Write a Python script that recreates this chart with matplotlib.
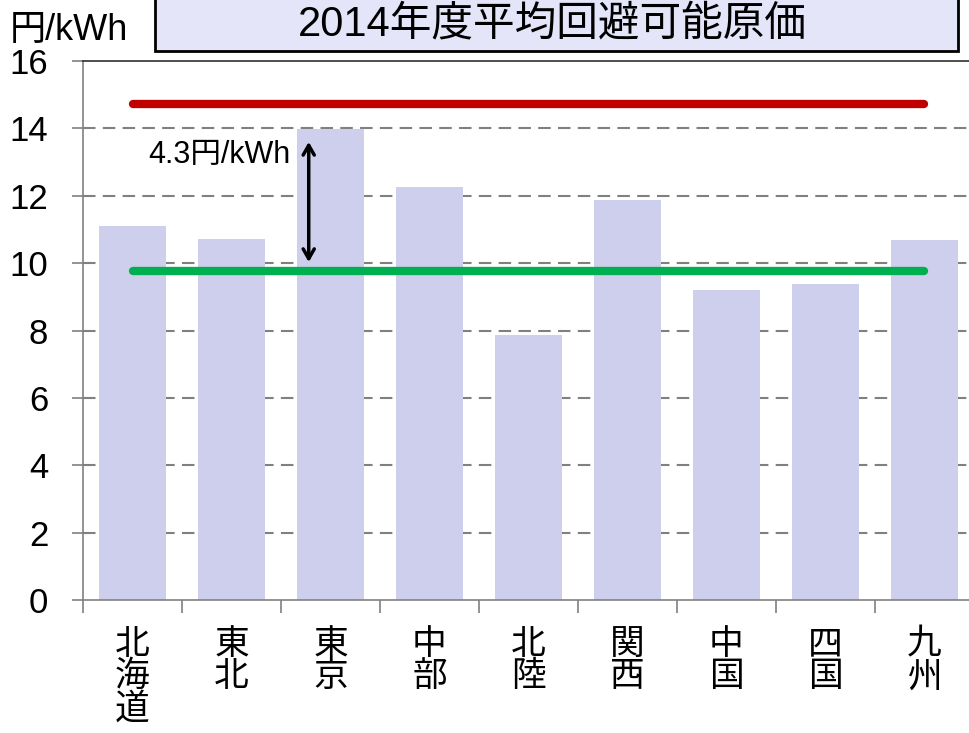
import numpy as np
import matplotlib
matplotlib.use("Agg")
import matplotlib.pyplot as plt
from matplotlib.patches import Rectangle

plt.rcParams['font.family'] = ['Liberation Sans', 'Noto Sans CJK JP', 'DejaVu Sans']

# data
regions = ['北海道', '東北', '東京', '中部', '北陸', '関西', '中国', '四国', '九州']
costs = [11.10, 10.72, 13.98, 12.26, 7.87, 11.87, 9.20, 9.38, 10.69]
upper_level = 14.72
avg_level = 9.77
arrow_top = 13.6
arrow_bottom = 10.03
gap_label = '4.3円/kWh'
title = '2014年度平均回避可能原価'
unit = '円/kWh'

fig = plt.figure(figsize=(9.69, 7.33), dpi=100)
ax = fig.add_axes([83 / 969, 1 - 600 / 733, 891 / 969, 539 / 733])

x = np.arange(len(regions))
ax.bar(x, costs, width=0.67, color='#CECFEC', zorder=2)

# gridlines
for v in range(2, 16, 2):
    ax.axhline(v, color='#808080', lw=1.5, ls=(0, (6, 3.5)), zorder=1)

ax.plot([x[0], x[-1]], [upper_level, upper_level], color='#C00000', lw=6,
        solid_capstyle='round', zorder=3)
ax.plot([x[0], x[-1]], [avg_level, avg_level], color='#00B050', lw=6,
        solid_capstyle='round', zorder=3)

ax.annotate('', xy=(1.78, arrow_top), xytext=(1.78, arrow_bottom),
            arrowprops=dict(arrowstyle='<->,head_length=0.7,head_width=0.4',
                            color='black', lw=2.5, shrinkA=0, shrinkB=0),
            zorder=4)
ax.text(1.6, 13.2, gap_label, fontsize=22, ha='right', va='center', zorder=4)

ax.set_xlim(-0.5, 8.5)
ax.set_ylim(0, 16)
ax.set_yticks(range(0, 17, 2))
ax.tick_params(axis='y', labelsize=25, length=8, width=1.2, color='#808080', pad=17)

ax.set_xticks(x)
ax.set_xticklabels(['\n'.join(r) for r in regions], fontsize=25, linespacing=0.98,
                   va='top')
ax.tick_params(axis='x', which='major', length=0, pad=20)
ax.set_xticks(np.arange(-0.5, 8.5, 1), minor=True)
ax.tick_params(axis='x', which='minor', length=9, width=1.2, color='#808080')

ax.spines['left'].set_color('#808080')
ax.spines['bottom'].set_color('#808080')
ax.spines['left'].set_linewidth(1.2)
ax.spines['bottom'].set_linewidth(1.2)
ax.spines['right'].set_visible(False)
ax.spines['top'].set_color('#303030')
ax.spines['top'].set_linewidth(1.2)

# title box
fig.patches.append(Rectangle((155 / 969, 1 - 51 / 733), 803 / 969, 70 / 733,
                             transform=fig.transFigure, facecolor='#E5E5FA',
                             edgecolor='black', lw=2, zorder=5))
fig.text(552 / 969, 1 - 35 / 733, title, fontsize=30, ha='center',
         va='baseline', zorder=6)
fig.text(10 / 969, 1 - 40 / 733, unit, fontsize=26, ha='left', va='baseline')

fig.savefig('out.png', dpi=100)
